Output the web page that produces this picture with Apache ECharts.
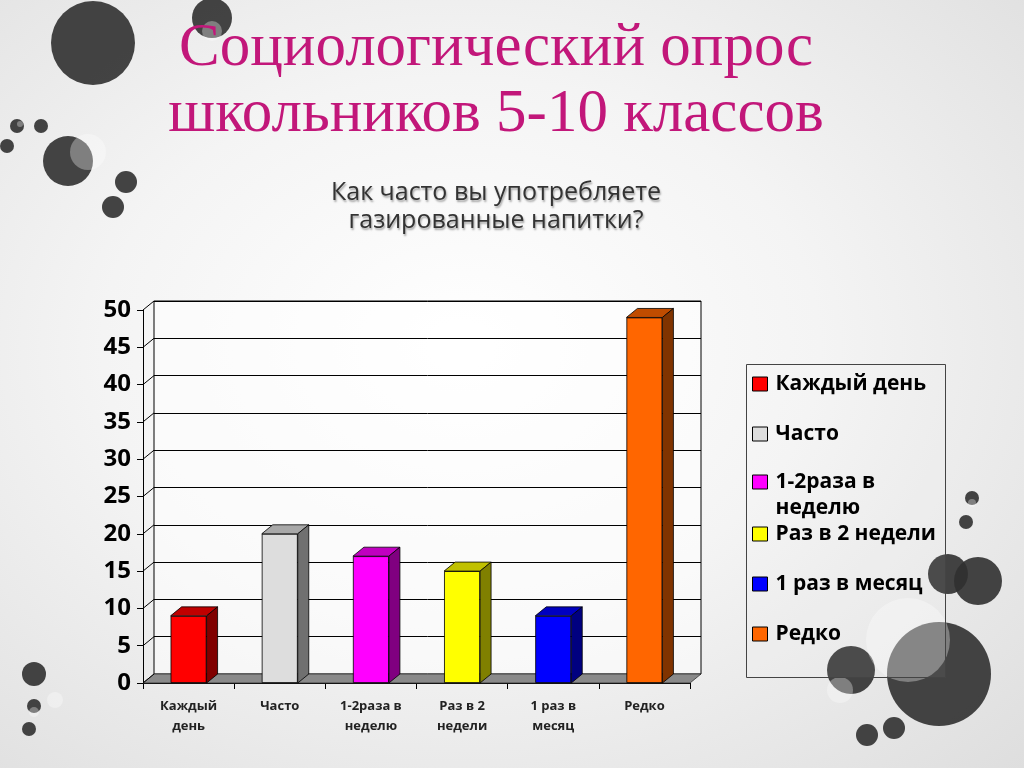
<!DOCTYPE html>
<html>
<head>
<meta charset="utf-8">
<script src="https://cdn.jsdelivr.net/npm/echarts@6/dist/echarts.min.js"></script>
<style>
html,body{margin:0;padding:0;width:1024px;height:768px;overflow:hidden;}
body{background:radial-gradient(ellipse at 45% 45%, #ffffff 0%, #f4f4f4 45%, #dedede 100%);}
#chart{width:1024px;height:768px;}
</style>
</head>
<body>
<div id="chart"></div>
<script>
// ---- data ----
const categories = ['Каждый день', 'Часто', '1-2раза в неделю', 'Раз в 2 недели', '1 раз в месяц', 'Редко'];
const axisLabels = ['Каждый\nдень', 'Часто', '1-2раза в\nнеделю', 'Раз в 2\nнедели', '1 раз в\nмесяц', 'Редко'];
const legendLabels = ['Каждый день', 'Часто', '1-2раза в\nнеделю', 'Раз в 2 недели', '1 раз в месяц', 'Редко'];
const values = [9, 20, 17, 15, 9, 49];
const yMin = 0, yMax = 50, yStep = 5;
const yTicks = [0, 5, 10, 15, 20, 25, 30, 35, 40, 45, 50];
const titleText = 'Социологический опрос\nшкольников 5-10 классов';
const subtitleText = 'Как часто вы употребляете\nгазированные напитки?';

// ---- styles ----
const frontColors = ['#FF0000', '#DDDDDD', '#FF00FF', '#FFFF00', '#0000FF', '#FF6600'];
const topColors   = ['#C00000', '#A8A8A8', '#C000C0', '#C0C000', '#0000C0', '#C04C00'];
const sideColors  = ['#800000', '#707070', '#800080', '#808000', '#000080', '#803300'];
const DX = 11, DY = 9, BAR_W = 36;

const chart = echarts.init(document.getElementById('chart'), null, {renderer: 'canvas'});

const circles = [
  [93, 43, 42], [212, 18, 20], [17, 126, 7], [41, 126, 7], [7, 146, 7],
  [68, 161, 25], [126, 182, 11], [113, 207, 11],
  [972, 498, 7], [966, 522, 7], [948, 574, 20], [978, 581, 24],
  [939, 674, 52], [851, 670, 24], [867, 735, 11], [894, 728, 11],
  [34, 674, 12], [34, 706, 7], [29, 729, 7]
];
const lightCircles = [
  [212, 31, 10], [88, 152, 18], [20, 124, 3], [908, 640, 42], [840, 690, 13], [34, 712, 5], [55, 700, 8], [972, 503, 4]
];
const graphics = [];
circles.forEach(c => graphics.push({
  type: 'circle', shape: {cx: c[0], cy: c[1], r: c[2]},
  style: {fill: 'rgba(48,48,48,0.9)'}, z: 0, silent: true
}));
lightCircles.forEach(c => graphics.push({
  type: 'circle', shape: {cx: c[0], cy: c[1], r: c[2]},
  style: {fill: 'rgba(255,255,255,0.32)'}, z: 0, silent: true
}));
graphics.push({
  type: 'rect', shape: {x: 746.5, y: 364.5, width: 199, height: 313},
  style: {fill: 'rgba(255,255,255,0.05)', stroke: '#444', lineWidth: 1}, z: 1, silent: true
});

const barSeries = categories.map((name, i) => ({
  type: 'bar', name: name, xAxisIndex: 0, yAxisIndex: 0,
  data: values.map((v, j) => j === i ? v : '-'),
  barWidth: BAR_W, barGap: '-100%',
  itemStyle: {color: frontColors[i], borderColor: '#000', borderWidth: 0.8},
  z: 3, silent: true
}));

const facesSeries = {
  type: 'custom', xAxisIndex: 0, yAxisIndex: 0, z: 4, silent: true,
  data: values.map((v, i) => [i, v]),
  renderItem: function (params, api) {
    const i = api.value(0);
    const p = api.coord([i, api.value(1)]);
    const p0 = api.coord([i, 0]);
    const x0 = p[0] - BAR_W / 2, x1 = p[0] + BAR_W / 2, y = p[1], yb = p0[1];
    return {
      type: 'group', children: [
        {type: 'polygon', shape: {points: [[x0, y], [x0 + DX, y - DY], [x1 + DX, y - DY], [x1, y]]},
          style: {fill: topColors[i], stroke: '#000', lineWidth: 0.8}},
        {type: 'polygon', shape: {points: [[x1, y], [x1 + DX, y - DY], [x1 + DX, yb - DY], [x1, yb]]},
          style: {fill: sideColors[i], stroke: '#000', lineWidth: 0.8}}
      ]
    };
  }
};

const floorSeries = {
  type: 'custom', xAxisIndex: 0, yAxisIndex: 0, z: 1, silent: true,
  data: [[0, 0]],
  renderItem: function (params, api) {
    const cs = params.coordSys;
    const yb = api.coord([0, 0])[1];
    const x = cs.x, w = cs.width;
    return {
      type: 'polygon',
      shape: {points: [[x, yb], [x + w, yb], [x + w + DX, yb - DY], [x + DX, yb - DY]]},
      style: {fill: '#8a8a8a', stroke: '#333', lineWidth: 0.8}
    };
  }
};

const connectorSeries = {
  type: 'custom', xAxisIndex: 0, yAxisIndex: 0, z: 2, silent: true,
  data: yTicks.map(v => [0, v]),
  renderItem: function (params, api) {
    const cs = params.coordSys;
    const y = api.coord([0, api.value(1)])[1];
    return {
      type: 'line', shape: {x1: cs.x, y1: y, x2: cs.x + DX, y2: y - DY},
      style: {stroke: '#000', lineWidth: 1}
    };
  }
};

const legendText = {fontFamily: 'Open Sans', fontWeight: 'bold', fontSize: 21, lineHeight: 22, color: '#000', padding: [0, 0, 0, 3]};
const legendBase = {
  orient: 'vertical', left: 752, padding: 0, itemGap: 28,
  itemWidth: 15, itemHeight: 14, icon: 'rect', selectedMode: false,
  itemStyle: {borderColor: '#000', borderWidth: 1},
  textStyle: legendText,
  formatter: function (name) { return legendLabels[categories.indexOf(name)]; }
};

chart.setOption({
  backgroundColor: 'transparent',
  animation: false,
  graphic: graphics,
  title: [
    {text: titleText, left: 491, top: 11, textAlign: 'center',
      textStyle: {fontFamily: 'Liberation Serif', fontWeight: 'normal', fontSize: 61, lineHeight: 66, color: '#C2177A'}},
    {text: subtitleText, left: 491, top: 174, textAlign: 'center',
      textStyle: {fontFamily: 'Open Sans', fontWeight: 'normal', fontSize: 25, lineHeight: 28, color: '#333',
        textShadowColor: 'rgba(0,0,0,0.35)', textShadowBlur: 2, textShadowOffsetX: 1, textShadowOffsetY: 2}}
  ],
  legend: [
    Object.assign({}, legendBase, {top: 373, data: [categories[0], categories[1]]}),
    Object.assign({}, legendBase, {top: 469, itemHeight: 42, icon: 'path://M0,0M15,42M0,1H15V15H0Z',
      textStyle: Object.assign({}, legendText, {lineHeight: 26}),
      data: [categories[2]]}),
    Object.assign({}, legendBase, {top: 523, data: [categories[3], categories[4], categories[5]]})
  ],
  grid: [
    {left: 143, top: 310, width: 547, height: 373, containLabel: false},
    {left: 154, top: 301, width: 547, height: 373, containLabel: false, show: true,
      borderColor: '#000', borderWidth: 1, backgroundColor: 'rgba(255,255,255,0.55)'}
  ],
  xAxis: [
    {type: 'category', gridIndex: 0, data: categories, boundaryGap: true,
      axisLine: {show: true, lineStyle: {color: '#000', width: 1}},
      axisTick: {show: true, alignWithLabel: false, length: 6, lineStyle: {color: '#000'}},
      axisLabel: {interval: 0, margin: 13, fontFamily: 'Open Sans', fontWeight: 'bold', fontSize: 13, lineHeight: 20, color: '#222',
        formatter: function (v, idx) { return axisLabels[idx]; }},
      splitLine: {show: false}},
    {type: 'category', gridIndex: 1, data: categories, show: false}
  ],
  yAxis: [
    {type: 'value', gridIndex: 0, min: yMin, max: yMax, interval: yStep,
      axisLine: {show: true, lineStyle: {color: '#000', width: 1}},
      axisTick: {show: true, length: 6, lineStyle: {color: '#000'}},
      axisLabel: {margin: 12, fontFamily: 'Open Sans', fontWeight: 'bold', fontSize: 24, color: '#000'},
      splitLine: {show: false}},
    {type: 'value', gridIndex: 1, min: yMin, max: yMax, interval: yStep,
      axisLine: {show: false}, axisTick: {show: false}, axisLabel: {show: false},
      splitLine: {show: true, lineStyle: {color: '#000', width: 1}}}
  ],
  series: [floorSeries, connectorSeries].concat(barSeries).concat([facesSeries])
});
</script>
</body>
</html>
